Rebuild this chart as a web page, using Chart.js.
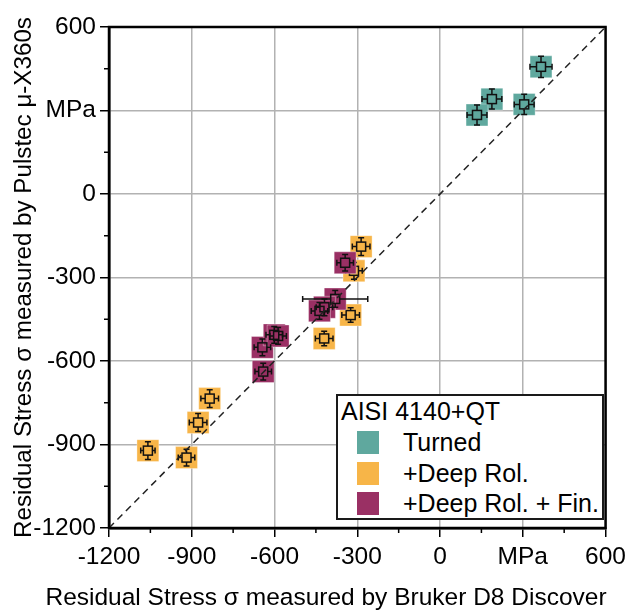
<!DOCTYPE html>
<html>
<head>
<meta charset="utf-8">
<script src="https://cdn.jsdelivr.net/npm/chart.js@4.4.1/dist/chart.umd.min.js"></script>
<style>
    body { margin: 0; background: #fff; }
    #wrap { position: relative; width: 632px; height: 612px; }
    #legend {
        position: absolute; left: 336px; top: 394px; width: 268px; height: 126px;
        box-sizing: border-box; border: 2px solid #1a1a1a; background: #fff;
        font-family: "Liberation Sans", Arial, sans-serif; font-size: 25px; color: #000;
    }
    #legend .title { position: absolute; left: 3px; top: 1px; line-height: 28px; white-space: nowrap; }
    #legend .row { position: absolute; left: 0; height: 28px; line-height: 28px; white-space: nowrap; }
    #legend .swatch { position: absolute; left: 19px; top: 3px; width: 22px; height: 23px; }
    #legend .label { position: absolute; left: 65px; top: 0; }
</style>
</head>
<body>
<div id="wrap">
    <canvas id="chart" width="632" height="612"></canvas>
    <div id="legend"></div>
</div>
<script>
// data (MPa)
const seriesNames = ['Turned', '+Deep Rol.', '+Deep Rol. + Fin.'];
const seriesColors = ['#5fa89e', '#f7b548', '#9a3064'];
const legendTitle = 'AISI 4140+QT';

const turnedX = [366, 188, 134, 305];
const turnedY = [457, 341, 284, 322];
const turnedXErr = [40, 36, 36, 36];
const turnedYErr = [38, 36, 36, 36];

const deepRolX = [-1059, -919, -877, -835, -286, -312, -324, -420];
const deepRolY = [-922, -947, -821, -735, -189, -276, -435, -519];
const deepRolXErr = [26, 30, 32, 32, 32, 30, 32, 32];
const deepRolYErr = [32, 30, 32, 32, 32, 30, 26, 26];

const finX = [-644, -641, -601, -587, -344, -380, -419, -437];
const finY = [-551, -638, -506, -510, -247, -377, -407, -420];
const finXErr = [30, 30, 30, 30, 30, 118, 30, 30];
const finYErr = [30, 30, 30, 30, 30, 30, 30, 30];

const axisMin = -1200;
const axisMax = 600;
const tickValues = [-1200, -900, -600, -300, 0, 300, 600];
const tickLabels = ['-1200', '-900', '-600', '-300', '0', 'MPa', '600'];

const xTitle = 'Residual Stress \u03c3 measured by Bruker D8 Discover';
const yTitle = 'Residual Stress \u03c3 measured by Pulstec \u03bc-X360s';

const FONT = "'Liberation Sans', Arial, sans-serif";

function toPoints(xs, ys) {
    return xs.map((x, i) => ({ x: x, y: ys[i] }));
}

function tickLabel(v) {
    const i = tickValues.indexOf(v);
    return i >= 0 ? tickLabels[i] : '';
}

function isMajor(v) {
    return tickValues.indexOf(v) >= 0;
}

function scatterSet(i, xs, ys, xErr, yErr) {
    return {
        type: 'scatter',
        label: seriesNames[i],
        data: toPoints(xs, ys),
        xErr: xErr,
        yErr: yErr,
        order: 3 - i,
        pointStyle: 'rect',
        pointRadius: 15.5,
        pointHoverRadius: 15.5,
        backgroundColor: seriesColors[i],
        borderColor: 'rgba(255,255,255,0.35)',
        borderWidth: 1
    };
}

// error bars + small open square, drawn after each dataset
const errorBars = {
    id: 'errorBars',
    afterDatasetDraw(chart, args) {
        const ds = chart.data.datasets[args.index];
        if (!ds.xErr) return;
        const xs = chart.scales.x, ys = chart.scales.y;
        const ctx = chart.ctx;
        const half = 4.5, cap = 3;
        ctx.save();
        ctx.strokeStyle = '#111';
        ctx.lineWidth = 1.5;
        ds.data.forEach((p, i) => {
            const px = xs.getPixelForValue(p.x);
            const py = ys.getPixelForValue(p.y);
            const x1 = xs.getPixelForValue(p.x - ds.xErr[i]);
            const x2 = xs.getPixelForValue(p.x + ds.xErr[i]);
            const y1 = ys.getPixelForValue(p.y + ds.yErr[i]);
            const y2 = ys.getPixelForValue(p.y - ds.yErr[i]);
            ctx.beginPath();
            ctx.moveTo(x1, py); ctx.lineTo(px - half, py);
            ctx.moveTo(px + half, py); ctx.lineTo(x2, py);
            ctx.moveTo(x1, py - cap); ctx.lineTo(x1, py + cap);
            ctx.moveTo(x2, py - cap); ctx.lineTo(x2, py + cap);
            ctx.moveTo(px, y1); ctx.lineTo(px, py - half);
            ctx.moveTo(px, py + half); ctx.lineTo(px, y2);
            ctx.moveTo(px - cap, y1); ctx.lineTo(px + cap, y1);
            ctx.moveTo(px - cap, y2); ctx.lineTo(px + cap, y2);
            ctx.stroke();
            ctx.strokeRect(px - half, py - half, half * 2, half * 2);
        });
        ctx.restore();
    }
};

// closed frame, short minor ticks, and the x title (wider than the axis)
const frame = {
    id: 'frame',
    afterDraw(chart) {
        const { ctx, chartArea: a, scales } = chart;
        ctx.save();
        ctx.strokeStyle = '#000';
        ctx.lineWidth = 2.5;
        ctx.strokeRect(a.left, a.top, a.right - a.left, a.bottom - a.top);
        ctx.lineWidth = 1.5;
        ctx.beginPath();
        for (let v = axisMin; v <= axisMax; v += 150) {
            if (isMajor(v)) continue;
            const px = scales.x.getPixelForValue(v);
            ctx.moveTo(px, a.bottom); ctx.lineTo(px, a.bottom + 5);
            const py = scales.y.getPixelForValue(v);
            ctx.moveTo(a.left, py); ctx.lineTo(a.left - 5, py);
        }
        ctx.stroke();

        ctx.fillStyle = '#000';
        ctx.font = '24.5px ' + FONT;
        ctx.textAlign = 'center';
        ctx.textBaseline = 'alphabetic';
        ctx.fillText(xTitle, 326, 605);
        ctx.restore();
    }
};

function axis(title, isX) {
    return {
        type: 'linear',
        min: axisMin,
        max: axisMax,
        ticks: {
            stepSize: 150,
            autoSkip: false,
            maxRotation: 0,
            padding: isX ? 6 : 4,
            color: '#000',
            font: { family: FONT, size: 24.5 },
            callback: v => tickLabel(v)
        },
        grid: {
            color: c => isMajor(c.tick.value) ? '#b2b2b2' : 'rgba(0,0,0,0)',
            lineWidth: 1.5,
            tickColor: c => isMajor(c.tick.value) ? '#000' : 'rgba(0,0,0,0)',
            tickLength: 9,
            tickWidth: 1.5
        },
        border: { color: '#000', width: 2.5 },
        title: {
            display: !isX,
            text: title,
            color: '#000',
            font: { family: FONT, size: 24.2 },
            padding: { top: 10, bottom: 4 }
        },
        afterFit: s => {
            if (isX) s.height = 84; else s.width = 109;
        }
    };
}

const ctx = document.getElementById('chart').getContext('2d');
new Chart(ctx, {
    data: {
        datasets: [
            {
                type: 'line',
                label: 'diagonal',
                data: toPoints([axisMin, axisMax], [axisMin, axisMax]),
                order: 0,
                borderColor: '#222',
                borderWidth: 1.5,
                borderDash: [7, 5],
                pointRadius: 0,
                fill: false
            },
            scatterSet(0, turnedX, turnedY, turnedXErr, turnedYErr),
            scatterSet(1, deepRolX, deepRolY, deepRolXErr, deepRolYErr),
            scatterSet(2, finX, finY, finXErr, finYErr)
        ]
    },
    options: {
        responsive: false,
        devicePixelRatio: 1,
        animation: false,
        events: [],
        layout: { padding: { left: 0, top: 27, right: 21, bottom: 0 } },
        plugins: {
            legend: { display: false },
            tooltip: { enabled: false }
        },
        scales: {
            x: axis(xTitle, true),
            y: axis(yTitle, false)
        }
    },
    plugins: [errorBars, frame]
});

// legend built from the same names and colours
const legendEl = document.getElementById('legend');
legendEl.innerHTML = `<div class="title">${legendTitle}</div>`;
seriesNames.forEach((name, i) => {
    legendEl.insertAdjacentHTML('beforeend', `
        <div class="row" style="top:${32 + i * 30.5}px">
            <div class="swatch" style="background:${seriesColors[i]}"></div>
            <span class="label">${name}</span>
        </div>`);
});
</script>
</body>
</html>
